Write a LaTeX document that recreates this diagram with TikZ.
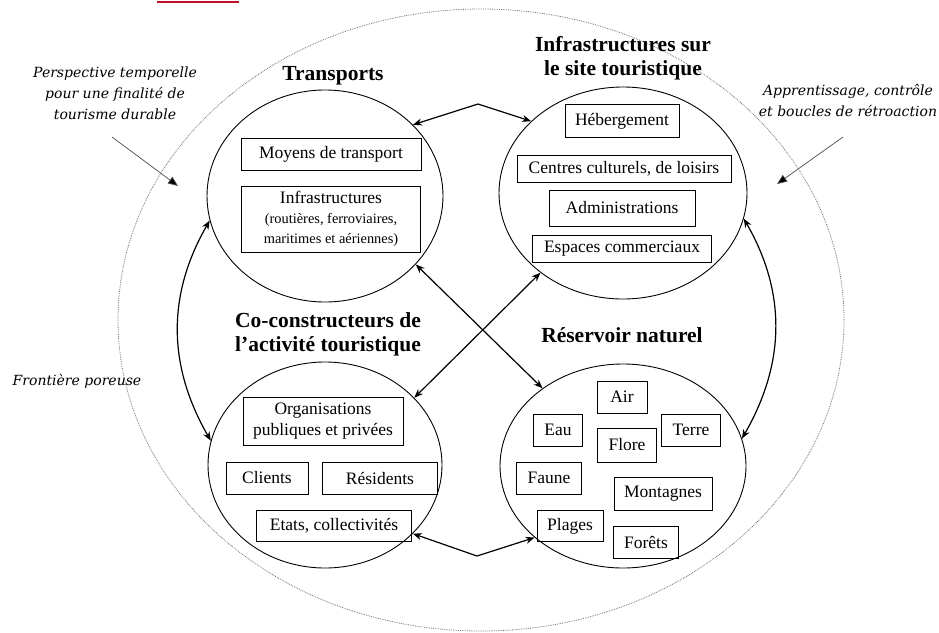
\documentclass[tikz,border=0pt]{standalone}
\usepackage{fontspec}
\setmainfont{Liberation Serif}
\newfontfamily\lblfont{DejaVu Serif}
\usetikzlibrary{shapes.geometric,arrows.meta}
\newcommand{\subfnt}{\fontsize{14.4}{15.5}\selectfont}
\begin{document}
\begin{tikzpicture}[x=1pt,y=-1pt,
  zone/.style={ellipse,draw,line width=0.9pt,inner sep=0pt},
  boxitem/.style={draw,line width=1pt,inner sep=0pt,font=\fontsize{17.5}{20}\selectfont,align=center},
  ttl/.style={font=\bfseries\fontsize{21.5}{24}\selectfont,align=center},
  lbl/.style={font=\lblfont\itshape\fontsize{14}{21}\selectfont,align=center},
  link/.style={line width=1.2pt,{Stealth[length=9pt,width=7pt]}-{Stealth[length=9pt,width=7pt]}},
  hint/.style={draw=black!70,line width=0.7pt,-{Triangle[length=10pt,width=8pt,fill=black]}},
  ]
\useasboundingbox (0,0) rectangle (939,632);
% red underline fragment of a cut-off heading
\draw[draw={rgb,255:red,192;green,16;blue,42},line width=2.5pt] (157,2) -- (239,2);

% outer porous frontier
\node[ellipse,draw=black!55,densely dotted,line width=0.8pt,inner sep=0pt,
      minimum width=726pt,minimum height=622pt] (outer) at (481,320) {};

% four zones
\node[zone,minimum width=236pt,minimum height=212pt] (tr)  at (325,196) {};
\node[zone,minimum width=248pt,minimum height=212pt] (inf) at (623,193) {};
\node[zone,minimum width=234pt,minimum height=206pt] (co)  at (325,465) {};
\node[zone,minimum width=246pt,minimum height=204pt] (res) at (623,466) {};

% titles
\node[ttl] (ttr)  at (333,76) {Transports};
\node[ttl] (tinf) at (623,58) {Infrastructures sur\\le site touristique};
\node[ttl] (tco)  at (328,334) {Co-constructeurs de\\l'activité touristique};
\node[ttl] (tres) at (622,335) {Réservoir naturel};

% transport boxes
\node[boxitem,minimum width=180pt,minimum height=32pt] (b1) at (331,154) {Moyens de transport};
\node[boxitem,minimum width=179pt,minimum height=66pt] (b2) at (331,219)
  {Infrastructures\\\subfnt (routières, ferroviaires,\\\subfnt maritimes et aériennes)};

% infrastructure boxes
\node[boxitem,minimum width=114pt,minimum height=33pt] (b3) at (622,121) {Hébergement};
\node[boxitem,minimum width=214pt,minimum height=27pt] (b4) at (624,169) {Centres culturels, de loisirs};
\node[boxitem,minimum width=146pt,minimum height=36pt] (b5) at (622,208) {Administrations};
\node[boxitem,minimum width=179pt,minimum height=27pt] (b6) at (622,249) {Espaces commerciaux};

% co-constructeurs boxes
\node[boxitem,minimum width=160pt,minimum height=48pt] (b7) at (323,421) {Organisations\\[1pt]publiques et privées};
\node[boxitem,minimum width=82pt,minimum height=32pt] (b8) at (267,478) {Clients};
\node[boxitem,minimum width=115pt,minimum height=32pt] (b9) at (380,478) {Résidents};
\node[boxitem,minimum width=155pt,minimum height=31pt] (b10) at (334,526) {Etats, collectivités};

% reservoir boxes
\node[boxitem,minimum width=50pt,minimum height=32pt] (r1) at (622,397) {Air};
\node[boxitem,minimum width=49pt,minimum height=32pt] (r2) at (558,430) {Eau};
\node[boxitem,minimum width=59pt,minimum height=32pt] (r3) at (691,430) {Terre};
\node[boxitem,minimum width=59pt,minimum height=34pt] (r4) at (627,445) {Flore};
\node[boxitem,minimum width=65pt,minimum height=32pt] (r5) at (549,478) {Faune};
\node[boxitem,minimum width=98pt,minimum height=33pt] (r6) at (663,494) {Montagnes};
\node[boxitem,minimum width=66pt,minimum height=31pt] (r7) at (570,526) {Plages};
\node[boxitem,minimum width=65pt,minimum height=32pt] (r8) at (646,542) {Forêts};

% side labels
\node[lbl] (l1) at (115,93) {Perspective temporelle\\pour une finalité de\\tourisme durable};
\node[lbl] (l2) at (848,100) {Apprentissage, contrôle\\et boucles de rétroaction};
\node[lbl] (l3) at (77,381) {Frontière poreuse};

\coordinate (h1a) at (112,137);
\coordinate (h1b) at (178,186);
\coordinate (h2a) at (843,137);
\coordinate (h2b) at (777,184);
\draw[hint] (h1a) -- (h1b);
\draw[hint] (h2a) -- (h2b);

% connectors
\coordinate (ptop) at (478,104);
\coordinate (pbot) at (477,556);
\draw[link] (tr.39) -- (ptop) -- (inf.142);
\draw[link] (co.-38) -- (pbot) -- (res.-141);
\draw[link] (tr.192) to[out=240,in=120] (co.168);
\draw[link] (inf.-12) to[out=-60,in=60] (res.13);
\draw[link] (tr.-37) -- (res.136.5);
\draw[link] (inf.-136) -- (co.37);
\end{tikzpicture}
\end{document}
